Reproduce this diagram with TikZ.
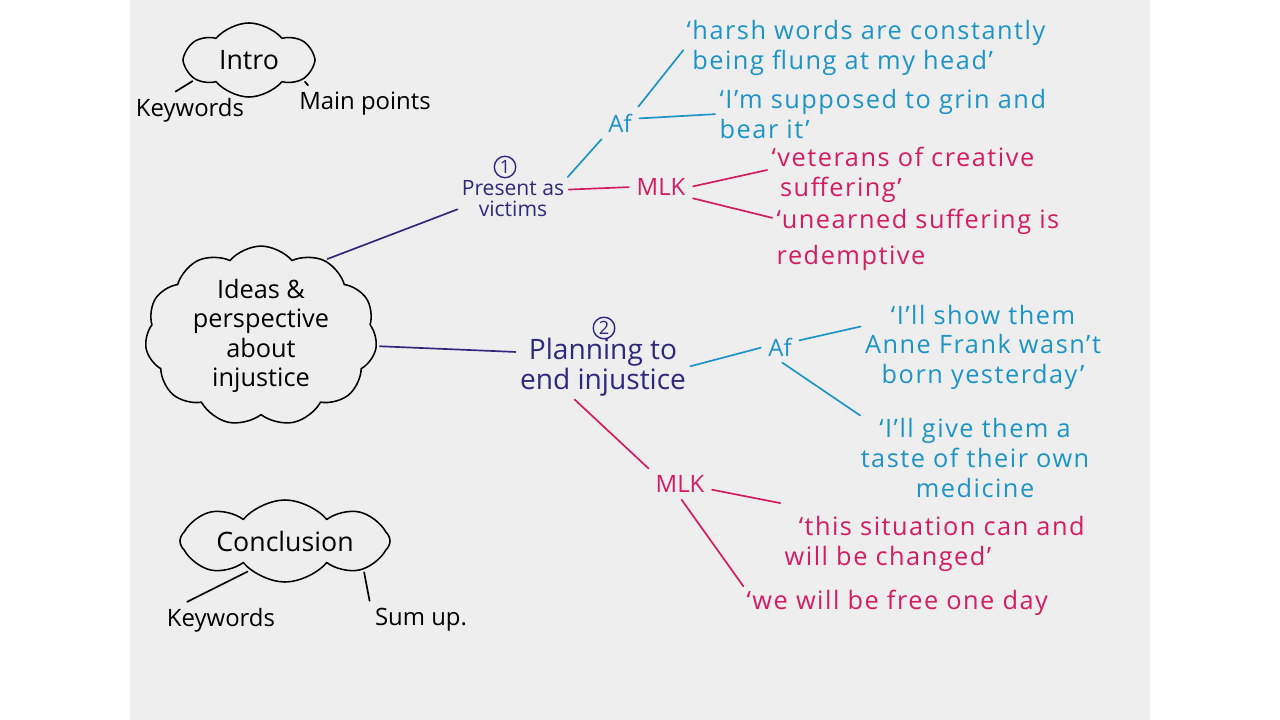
\documentclass[tikz,border=0pt]{standalone}
\usepackage{fontspec}
\setmainfont{Open Sans}
\usetikzlibrary{shapes.symbols}
\definecolor{paper}{RGB}{238,238,238}
\definecolor{navy}{RGB}{48,40,125}
\definecolor{afblue}{RGB}{28,148,198}
\definecolor{mlkred}{RGB}{212,28,98}
\tikzset{
	bubble/.style={cloud, draw, cloud puffs=#1, cloud puff arc=100, cloud ignores aspect, line width=1.1pt, inner sep=0pt},
	quote/.style={align=left, inner sep=1pt, font=\fontsize{18}{21}\selectfont\addfontfeatures{LetterSpace=6}},
	num/.style={circle, draw, line width=1pt, inner sep=1.2pt, font=\fontsize{13}{13}\selectfont},
	pen/.style={line width=1.2pt, shorten <=2pt, shorten >=2pt},
}
\begin{document}
\begin{tikzpicture}[x=0.025cm, y=-0.025cm, font=\fontsize{17}{20}\selectfont, line join=round, line cap=round]
	\useasboundingbox (0,0) rectangle (1280,720);
	\fill[paper] (130,0) rectangle (1150,720);
	\begin{scope}
		\clip (130,0) rectangle (1150,720);
		% clouds
		\node[bubble=6, minimum width=3.15cm, minimum height=1.85cm, font=\fontsize{19}{24}\selectfont] (intro) at (249,60) {Intro};
		\node[bubble=11, minimum width=5.8cm, minimum height=4cm, align=center, font=\fontsize{18}{21}\selectfont] (idea) at (261,336) {Ideas \&\\perspective\\about\\injustice};
		\node[bubble=8, minimum width=5.25cm, minimum height=2.05cm, font=\fontsize{19}{24}\selectfont] (concl) at (285,541) {Conclusion};
		\node (introkey) at (190,110) {Keywords};
		\node (intromain) at (365,104) {Main points};
		\node (conkey) at (221,620) {Keywords};
		\node (sumup) at (421,620) {Sum up.};
		% main branches
		\node[navy, align=center, inner sep=1pt, font=\fontsize{15}{15}\selectfont] (present) at (513,199) {Present as\\victims};
		\node[num, navy] (num1) at (505,167) {1};
		\node[navy, align=center, inner sep=1pt, font=\fontsize{20}{21}\selectfont] (plan) at (603,367) {Planning to\\end injustice};
		\node[num, navy] (num2) at (604,328) {2};
		\node[afblue] (af1) at (620,123) {Af};
		\node[mlkred] (mlk1) at (661,187) {MLK};
		\node[afblue] (af2) at (780,347) {Af};
		\node[mlkred] (mlk2) at (680,484) {MLK};
		% quotes
		\node[quote, afblue, anchor=west] (q1) at (685,48) {‘harsh words are constantly\\\hspace{4pt}being flung at my head’};
		\node[quote, afblue, anchor=west] (q2) at (718,114) {‘I’m supposed to grin and\\bear it’};
		\node[quote, mlkred, anchor=west] (q3) at (770,175) {‘veterans of creative\\\hspace{6pt}suffering’};
		\node[quote, mlkred, anchor=west, font=\fontsize{18}{26}\selectfont\addfontfeatures{LetterSpace=6}] (q4) at (775,240) {‘unearned suffering is\\redemptive};
		\node[quote, afblue, align=center] (q5) at (983,347) {‘I’ll show them\\Anne Frank wasn’t\\born yesterday’};
		\node[quote, afblue, align=center] (q6) at (975,458) {‘I’ll give them a\\taste of their own\\medicine};
		\node[quote, mlkred, anchor=west] (q7) at (783,544) {\hspace{10pt}‘this situation can and\\will be changed’};
		\node[quote, mlkred, anchor=west] (q8) at (745,603) {‘we will be free one day};
		% connectors
		\draw[pen] (intro.200) -- (introkey.135);
		\draw[pen] (intro.340) -- ([xshift=11pt]intromain.north west);
		\draw[pen] (concl.220) -- (conkey.155);
		\draw[pen] (concl.340) -- (sumup.north west);
		\draw[pen, navy] (idea.50) -- (present.190);
		\draw[pen, navy] (idea.355) -- (plan.170);
		\draw[pen, afblue] (present.north east) -- (af1.south west);
		\draw[pen, mlkred] (present.10) -- (mlk1.west);
		\draw[pen, afblue] (af1.north east) -- (q1.west);
		\draw[pen, afblue] (af1.15) -- (q2.west);
		\draw[pen, mlkred] (mlk1.east) -- ([yshift=4pt]q3.west);
		\draw[pen, mlkred] (mlk1.-20) -- ([yshift=-8pt]q4.north west);
		\draw[pen, afblue] (plan.east) -- (af2.west);
		\draw[pen, afblue] (af2.20) -- (q5.170);
		\draw[pen, afblue] (af2.south) -- (q6.160);
		\draw[pen, mlkred] (plan.225) -- (mlk2.north west);
		\draw[pen, mlkred] (mlk2.-10) -- ([yshift=8pt]q7.north west);
		\draw[pen, mlkred] (mlk2.south) -- (q8.north west);
	\end{scope}
\end{tikzpicture}
\end{document}
